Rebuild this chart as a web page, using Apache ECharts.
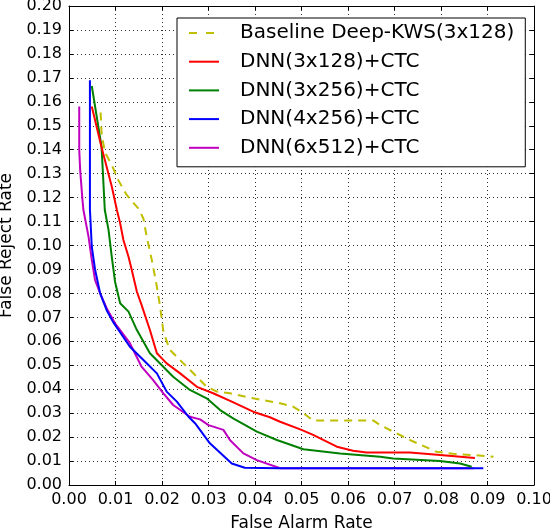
<!DOCTYPE html>
<html>
<head>
<meta charset="utf-8">
<script src="https://cdn.jsdelivr.net/npm/echarts@6/dist/echarts.min.js"></script>
<style>
    html, body {margin: 0; padding: 0; background: #fff;}
    #chart {width: 550px; height: 528px;}
</style>
</head>
<body>
<div id="chart"></div>
<script>
// values (false alarm rate, false reject rate)
const seriesNames = [
    'Baseline Deep-KWS(3x128)',
    'DNN(3x128)+CTC',
    'DNN(3x256)+CTC',
    'DNN(4x256)+CTC',
    'DNN(6x512)+CTC',
];

const baselineFar = [0.0068, 0.0070, 0.0077, 0.0092, 0.0106, 0.0124, 0.0149, 0.0160, 0.0167, 0.0178, 0.0189, 0.0196, 0.0203, 0.0217, 0.0246, 0.0275, 0.0296, 0.0318, 0.0346, 0.0396, 0.0454, 0.0482, 0.0504, 0.0525, 0.0611, 0.0655, 0.0669, 0.0697, 0.0733, 0.0790, 0.0826, 0.0870, 0.0913];
const baselineFrr = [0.1555, 0.1470, 0.1390, 0.1336, 0.1273, 0.1211, 0.1155, 0.1113, 0.1037, 0.0940, 0.0828, 0.0744, 0.0640, 0.0564, 0.0508, 0.0452, 0.0410, 0.0390, 0.0383, 0.0362, 0.0341, 0.0327, 0.0300, 0.0269, 0.0269, 0.0269, 0.0250, 0.0223, 0.0188, 0.0139, 0.0130, 0.0125, 0.0118];

const dnn3x128Far = [0.0049, 0.0070, 0.0092, 0.0103, 0.0110, 0.0117, 0.0128, 0.0135, 0.0146, 0.0156, 0.0174, 0.0189, 0.0210, 0.0239, 0.0275, 0.0310, 0.0350, 0.0396, 0.0432, 0.0454, 0.0500, 0.0525, 0.0576, 0.0611, 0.0640, 0.0697, 0.0733, 0.0798, 0.0873];
const dnn3x128Frr = [0.1580, 0.1410, 0.1246, 0.1148, 0.1093, 0.1023, 0.0953, 0.0898, 0.0807, 0.0752, 0.0647, 0.0550, 0.0508, 0.0466, 0.0410, 0.0383, 0.0348, 0.0306, 0.0283, 0.0264, 0.0230, 0.0209, 0.0160, 0.0143, 0.0136, 0.0136, 0.0136, 0.0125, 0.0113];

const dnn3x256Far = [0.0049, 0.0070, 0.0077, 0.0085, 0.0092, 0.0099, 0.0110, 0.0128, 0.0146, 0.0174, 0.0199, 0.0224, 0.0260, 0.0296, 0.0325, 0.0353, 0.0404, 0.0447, 0.0504, 0.0583, 0.0669, 0.0697, 0.0798, 0.0841, 0.0866];
const dnn3x256Frr = [0.1666, 0.1413, 0.1148, 0.1065, 0.0953, 0.0849, 0.0759, 0.0724, 0.0647, 0.0550, 0.0501, 0.0452, 0.0397, 0.0362, 0.0313, 0.0278, 0.0223, 0.0188, 0.0149, 0.0132, 0.0118, 0.0111, 0.0100, 0.0090, 0.0076];

const dnn4x256Far = [0.0045, 0.0045, 0.0049, 0.0056, 0.0067, 0.0081, 0.0095, 0.0131, 0.0160, 0.0189, 0.0210, 0.0232, 0.0257, 0.0271, 0.0303, 0.0350, 0.0378, 0.0450, 0.0891];
const dnn4x256Frr = [0.1690, 0.1150, 0.0995, 0.0900, 0.0800, 0.0730, 0.0680, 0.0577, 0.0522, 0.0466, 0.0390, 0.0348, 0.0285, 0.0258, 0.0174, 0.0090, 0.0072, 0.0070, 0.0070];

const dnn6x512Far = [0.0022, 0.0022, 0.0024, 0.0029, 0.0031, 0.0042, 0.0049, 0.0056, 0.0067, 0.0081, 0.0099, 0.0131, 0.0156, 0.0181, 0.0203, 0.0224, 0.0260, 0.0282, 0.0300, 0.0332, 0.0346, 0.0375, 0.0404, 0.0454, 0.0870];
const dnn6x512Frr = [0.1580, 0.1400, 0.1315, 0.1190, 0.1148, 0.1037, 0.0940, 0.0856, 0.0800, 0.0738, 0.0675, 0.0592, 0.0494, 0.0438, 0.0383, 0.0334, 0.0285, 0.0274, 0.0250, 0.0230, 0.0188, 0.0132, 0.0104, 0.0070, 0.0070];

const xTicks = [0, 0.1, 0.01];
const yTicks = [0, 0.2, 0.01];

const colors = ['#bfbf00', '#ff0000', '#008000', '#0000ff', '#bf00bf'];

const pairs = (xs, ys) => xs.map((x, i) => [x, ys[i]]);

const curves = [
    pairs(baselineFar, baselineFrr),
    pairs(dnn3x128Far, dnn3x128Frr),
    pairs(dnn3x256Far, dnn3x256Frr),
    pairs(dnn4x256Far, dnn4x256Frr),
    pairs(dnn6x512Far, dnn6x512Frr),
];

const font = 'DejaVu Sans';

// legend swatches: a flat bar, and two dashes for the baseline
const solidIcon = 'rect';
const dashedIcon = 'path://M0,0h8v2h-8zM17,0h8v2h-8zM29.9,0h0.1v2h-0.1z';

const valueAxis = (range, extra) => Object.assign({
    type: 'value',
    min: range[0],
    max: range[1],
    interval: range[2],
    axisLine: {show: true, onZero: false, lineStyle: {color: '#000', width: 1}},
    axisTick: {show: true, inside: true, length: 4, lineStyle: {color: '#000'}},
    splitLine: {show: false},
    axisLabel: {show: false},
}, extra);

const gridLine = {show: true, lineStyle: {color: '#000', type: [1, 3], width: 1, opacity: 0.8}};

const chart = echarts.init(document.getElementById('chart'), null, {renderer: 'canvas'});

chart.setOption({
    animation: false,
    backgroundColor: '#fff',
    color: colors,
    grid: {left: 69, right: 16, top: 6, bottom: 43, containLabel: false, outerBoundsMode: 'none'},
    legend: {
        left: 177,
        top: 18,
        orient: 'vertical',
        data: seriesNames.map((name, i) => ({name: name, icon: i === 0 ? dashedIcon : solidIcon})),
        backgroundColor: '#fff',
        borderColor: '#000',
        borderWidth: 1,
        padding: [5, 11, 9, 12],
        itemWidth: 30,
        itemHeight: 2,
        itemGap: 8.7,
        textStyle: {fontFamily: font, fontSize: 20, color: '#000', lineHeight: 20, padding: [0, 0, 0, 16]},
    },
    xAxis: [
        valueAxis(xTicks, {
            position: 'bottom',
            name: 'False Alarm Rate',
            nameLocation: 'middle',
            nameGap: 30,
            nameTextStyle: {fontFamily: font, fontSize: 17, color: '#000'},
            splitLine: gridLine,
            axisLabel: {show: true, margin: 7, fontFamily: font, fontSize: 16, color: '#000',
                formatter: v => v.toFixed(2)},
        }),
        valueAxis(xTicks, {position: 'top'}),
    ],
    yAxis: [
        valueAxis(yTicks, {
            position: 'left',
            name: 'False Reject Rate',
            nameLocation: 'middle',
            nameGap: 50,
            nameTextStyle: {fontFamily: font, fontSize: 17, color: '#000'},
            splitLine: gridLine,
            axisLabel: {show: true, margin: 7, fontFamily: font, fontSize: 16, color: '#000',
                formatter: v => v.toFixed(2)},
        }),
        valueAxis(yTicks, {position: 'right'}),
    ],
    series: curves.map((data, i) => ({
        name: seriesNames[i],
        type: 'line',
        data: data,
        symbol: 'none',
        showSymbol: false,
        z: 10 - i,
        lineStyle: {color: colors[i], width: 2, type: i === 0 ? [8, 6] : 'solid'},
        itemStyle: {color: colors[i]},
    })),
});
</script>
</body>
</html>
